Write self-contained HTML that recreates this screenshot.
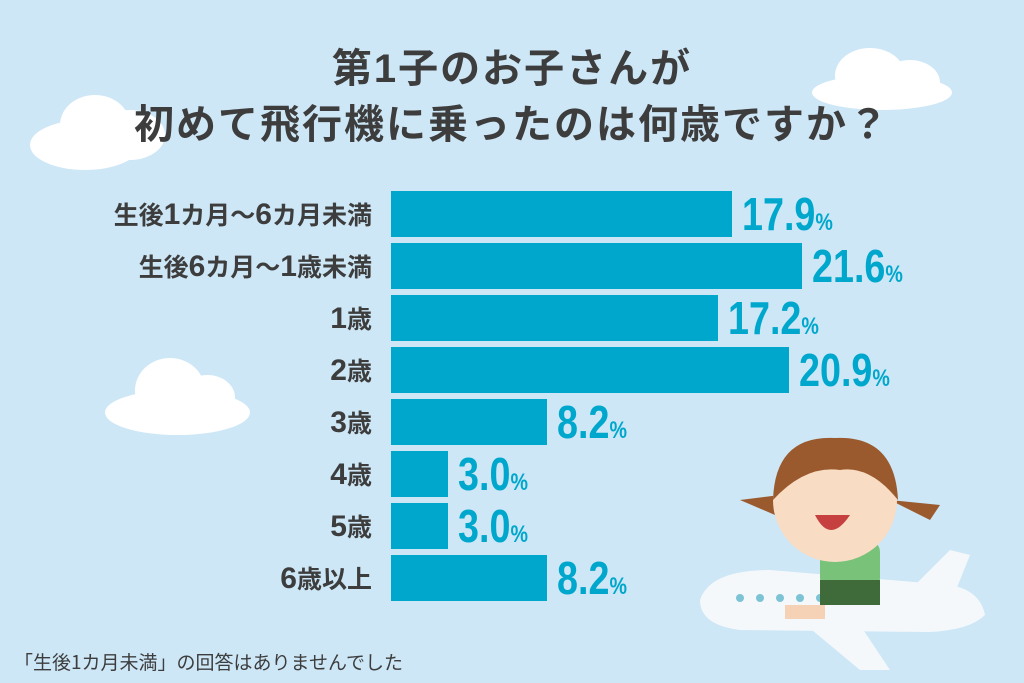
<!DOCTYPE html>
<html><head><meta charset="utf-8"><style>
body{margin:0;width:1024px;height:683px;overflow:hidden;background:#cde7f7;position:relative;font-family:"Liberation Sans","Noto Sans CJK JP",sans-serif}
.t{position:absolute;left:0;width:1024px;text-align:center;font-weight:bold;color:#3d3d3d;font-size:40px;letter-spacing:2px}
.bar{position:absolute;left:391px;height:46px;background:#00a7cc}
.lab{position:absolute;right:652px;font-weight:bold;color:#3d3d3d;font-size:25px;line-height:46px;white-space:nowrap;font-family:"Noto Sans CJK JP",sans-serif}
.lab b{font-family:"Liberation Sans",sans-serif;font-size:30px}
.v{position:absolute;font-family:"Liberation Sans Narrow","Liberation Sans",sans-serif;font-weight:bold;color:#00a7cc;font-size:46px;line-height:46px;transform:scaleX(0.82);transform-origin:left center}
.v small{font-size:24px}
.c{position:absolute;background:#fff;border-radius:50%}
</style></head><body>
<div class="c" style="left:30px;top:120px;width:110px;height:50px"></div>
<div class="c" style="left:60px;top:95px;width:70px;height:60px"></div>
<div class="c" style="left:95px;top:110px;width:70px;height:50px"></div>
<div class="c" style="left:812px;top:75px;width:140px;height:35px"></div>
<div class="c" style="left:835px;top:48px;width:70px;height:55px"></div>
<div class="c" style="left:880px;top:60px;width:60px;height:45px"></div>
<div class="c" style="left:105px;top:390px;width:145px;height:45px"></div>
<div class="c" style="left:135px;top:358px;width:70px;height:65px"></div>
<div class="c" style="left:180px;top:375px;width:55px;height:45px"></div>
<div class="t" style="top:36px">第1子のお子さんが</div>
<div class="t" style="top:92px">初めて飛行機に乗ったのは何歳ですか？</div>

<div class="bar" style="top:191px;width:341px"></div><div class="lab" style="top:191px">生後<b>1</b>カ月～<b>6</b>カ月未満</div><div class="v" style="left:742px;top:191px">17.9<small>%</small></div>
<div class="bar" style="top:243px;width:411px"></div><div class="lab" style="top:243px">生後<b>6</b>カ月～<b>1</b>歳未満</div><div class="v" style="left:812px;top:243px">21.6<small>%</small></div>
<div class="bar" style="top:295px;width:327px"></div><div class="lab" style="top:295px"><b>1</b>歳</div><div class="v" style="left:728px;top:295px">17.2<small>%</small></div>
<div class="bar" style="top:347px;width:398px"></div><div class="lab" style="top:347px"><b>2</b>歳</div><div class="v" style="left:799px;top:347px">20.9<small>%</small></div>
<div class="bar" style="top:399px;width:156px"></div><div class="lab" style="top:399px"><b>3</b>歳</div><div class="v" style="left:557px;top:399px">8.2<small>%</small></div>
<div class="bar" style="top:451px;width:57px"></div><div class="lab" style="top:451px"><b>4</b>歳</div><div class="v" style="left:458px;top:451px">3.0<small>%</small></div>
<div class="bar" style="top:503px;width:57px"></div><div class="lab" style="top:503px"><b>5</b>歳</div><div class="v" style="left:458px;top:503px">3.0<small>%</small></div>
<div class="bar" style="top:555px;width:156px"></div><div class="lab" style="top:555px"><b>6</b>歳以上</div><div class="v" style="left:557px;top:555px">8.2<small>%</small></div>

<svg style="position:absolute;left:680px;top:420px" width="344" height="263">
<path d="M20 180 Q30 150 90 150 L270 165 Q300 170 305 195 Q290 210 250 212 L60 210 Q20 205 20 180Z" fill="#f4f8fb"/>
<path d="M230 170 L270 130 L290 135 L270 185Z" fill="#f4f8fb"/>
<path d="M120 200 L180 250 L210 250 L180 205Z" fill="#f4f8fb"/>
<g fill="#7cc3d6"><circle cx="60" cy="178" r="4"/><circle cx="80" cy="178" r="4"/><circle cx="100" cy="178" r="4"/><circle cx="120" cy="178" r="4"/><circle cx="140" cy="178" r="4"/></g>
<rect x="140" y="120" width="60" height="50" rx="12" fill="#78c27a"/>
<rect x="140" y="160" width="60" height="25" fill="#3f6b3a"/>
<rect x="105" y="185" width="40" height="14" fill="#f5d2b5"/>
<path d="M60 80 L100 75 L95 95Z M210 80 L260 85 L250 100Z" fill="#9b5a2e"/>
<circle cx="155" cy="80" r="62" fill="#f8dcc3"/>
<path d="M93 80 Q95 15 155 18 Q215 15 218 80 Q190 45 160 50 Q125 45 93 80Z" fill="#9b5a2e"/>
<path d="M135 95 Q150 125 170 95Z" fill="#c6403f"/>
</svg>
<div style="position:absolute;left:14px;top:648px;font-size:19px;color:#3d3d3d;font-family:'Noto Sans CJK JP',sans-serif">「生後1カ月未満」の回答はありませんでした</div>
</body></html>
